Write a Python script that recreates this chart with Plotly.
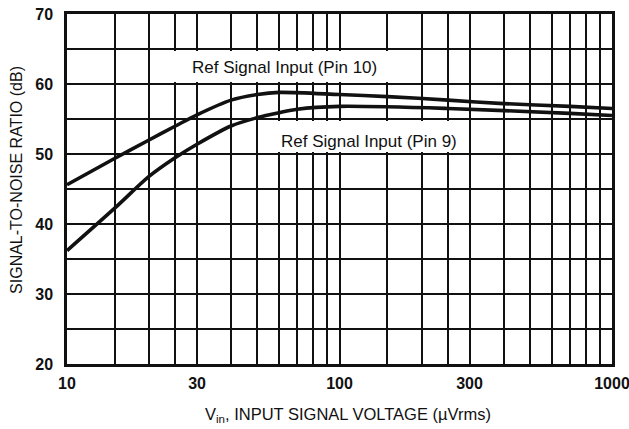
import plotly.graph_objects as go

# Data
pin10_x = [10, 15, 20, 25, 30, 40, 50, 60, 100, 150, 250, 400, 700, 1000]
pin10_y = [45.6, 49.4, 52.0, 54.0, 55.6, 57.7, 58.5, 58.8, 58.5, 58.2, 57.7, 57.2, 56.8, 56.5]

pin9_x = [10, 15, 20, 25, 30, 40, 50, 60, 70, 100, 250, 700, 1000]
pin9_y = [36.2, 42.3, 46.8, 49.5, 51.4, 54.0, 55.2, 55.9, 56.4, 56.8, 56.5, 55.8, 55.5]

x_grid = [10, 15, 20, 25, 30, 40, 50, 60, 70, 80, 90, 100,
          150, 200, 250, 300, 400, 500, 600, 700, 800, 900, 1000]
x_labels = {10: "10", 30: "30", 100: "100", 300: "300", 1000: "1000"}
y_grid = [20, 25, 30, 35, 40, 45, 50, 55, 60, 65, 70]
y_labels = {20: "20", 30: "30", 40: "40", 50: "50", 60: "60", 70: "70"}

label_pin10 = "Ref Signal Input (Pin 10)"
label_pin9 = "Ref Signal Input (Pin 9)"
x_title = "V<sub>in</sub>, INPUT SIGNAL VOLTAGE (µVrms)"
y_title = "SIGNAL-TO-NOISE RATIO (dB)"

FONT = "Liberation Sans, Arial, sans-serif"
INK = "#111111"

fig = go.Figure()
fig.add_trace(go.Scatter(x=pin10_x, y=pin10_y, mode="lines",
                         line=dict(color=INK, width=3.6, shape="spline", smoothing=0.8),
                         showlegend=False, hoverinfo="skip"))
fig.add_trace(go.Scatter(x=pin9_x, y=pin9_y, mode="lines",
                         line=dict(color=INK, width=3.6, shape="spline", smoothing=0.8),
                         showlegend=False, hoverinfo="skip"))

# white label boxes hiding the grid
fig.add_shape(type="rect", xref="paper", yref="paper", x0=0.182, x1=0.633,
              y0=0.8057, y1=0.8943, fillcolor="white", line=dict(width=0), layer="above")
fig.add_shape(type="rect", xref="paper", yref="paper", x0=0.365, x1=0.735,
              y0=0.6057, y1=0.6943, fillcolor="white", line=dict(width=0), layer="above")

fig.add_annotation(text=label_pin10, xref="paper", yref="paper", x=0.399, y=0.846,
                   xanchor="center", yanchor="middle",
                   showarrow=False, font=dict(family=FONT, size=17, color=INK))
fig.add_annotation(text=label_pin9, xref="paper", yref="paper", x=0.554, y=0.637,
                   xanchor="center", yanchor="middle",
                   showarrow=False, font=dict(family=FONT, size=17, color=INK))

fig.add_annotation(text=x_title, xref="paper", yref="paper", x=0.5156, y=-0.145,
                   xanchor="center", yanchor="middle",
                   showarrow=False, font=dict(family=FONT, size=16.5, color=INK))
fig.add_annotation(text=y_title, xref="paper", yref="paper", x=-0.0917, y=0.526,
                   xanchor="center", yanchor="middle",
                   textangle=-90, showarrow=False, font=dict(family=FONT, size=16, color=INK))

fig.update_xaxes(type="log", range=[1, 3], tickmode="array", tickvals=x_grid,
                 ticktext=[x_labels.get(v, "") for v in x_grid],
                 showgrid=True, gridcolor=INK, gridwidth=1.8,
                 showline=True, linecolor=INK, linewidth=2.5, mirror=True,
                 ticks="outside", ticklen=3, tickcolor="rgba(0,0,0,0)",
                 tickfont=dict(family=FONT, size=16, color=INK, weight="bold"),
                 ticklabeloverflow="allow",
                 zeroline=False, automargin=False)
fig.update_yaxes(range=[20, 70], tickmode="array", tickvals=y_grid,
                 ticktext=[y_labels.get(v, "") for v in y_grid],
                 showgrid=True, gridcolor=INK, gridwidth=1.8,
                 showline=True, linecolor=INK, linewidth=2.5, mirror=True,
                 ticks="outside", ticklen=8, tickcolor="rgba(0,0,0,0)",
                 tickfont=dict(family=FONT, size=16, color=INK, weight="bold"),
                 ticklabeloverflow="allow",
                 zeroline=False, automargin=False)

fig.update_layout(width=629, height=429, margin=dict(l=67, r=17, t=14, b=65),
                  paper_bgcolor="white", plot_bgcolor="white")

fig.write_html("out.html", config={"displayModeBar": False},
               post_script="document.body.style.margin='0px';")
